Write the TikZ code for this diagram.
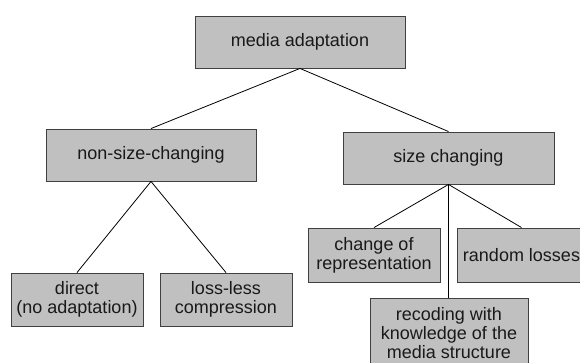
\documentclass[tikz,border=0pt]{standalone}
\usepackage{fontspec}
\setmainfont{Liberation Sans}
\definecolor{boxfill}{HTML}{C0C0C0}
\definecolor{boxline}{HTML}{404040}
\begin{document}
\begin{tikzpicture}[x=1pt,y=-1pt,
  box/.style={draw=boxline,fill=boxfill,line width=0.9pt,inner sep=0pt,align=center,
    font=\fontsize{18}{19}\selectfont,text=black!90},
  conn/.style={draw=black,line width=0.8pt}]
\useasboundingbox (0,0) rectangle (580,363);
\node[box,minimum width=210,minimum height=52] (top) at (300,42) {media adaptation};
\node[box,minimum width=210,minimum height=52] (nsc) at (151,155) {non-size-changing};
\node[box,minimum width=211,minimum height=52] (sc) at (448.5,158) {size changing};
\node[box,minimum width=132,minimum height=53] (dir) at (77,299.5) {direct\\(no adaptation)};
\node[box,minimum width=132,minimum height=53] (ll) at (226,299.5) {loss-less\\compression};
\node[box,minimum width=132,minimum height=54] (chg) at (374,255) {change of\\representation};
\node[box,minimum width=129,minimum height=54] (rl) at (521.5,255) {random losses};
\node[box,minimum width=158,minimum height=70] (rec) at (449,333) {recoding with\\knowledge of the\\media structure};
\draw[conn] (top.south) -- (nsc.north);
\draw[conn] (top.south) -- (sc.north);
\draw[conn] (nsc.south) -- (dir.north);
\draw[conn] (nsc.south) -- (ll.north);
\draw[conn] (sc.south) -- (chg.north);
\draw[conn] (sc.south) -- (rl.north);
\draw[conn] (sc.south) -- (sc.south |- rec.north);
\end{tikzpicture}
\end{document}
